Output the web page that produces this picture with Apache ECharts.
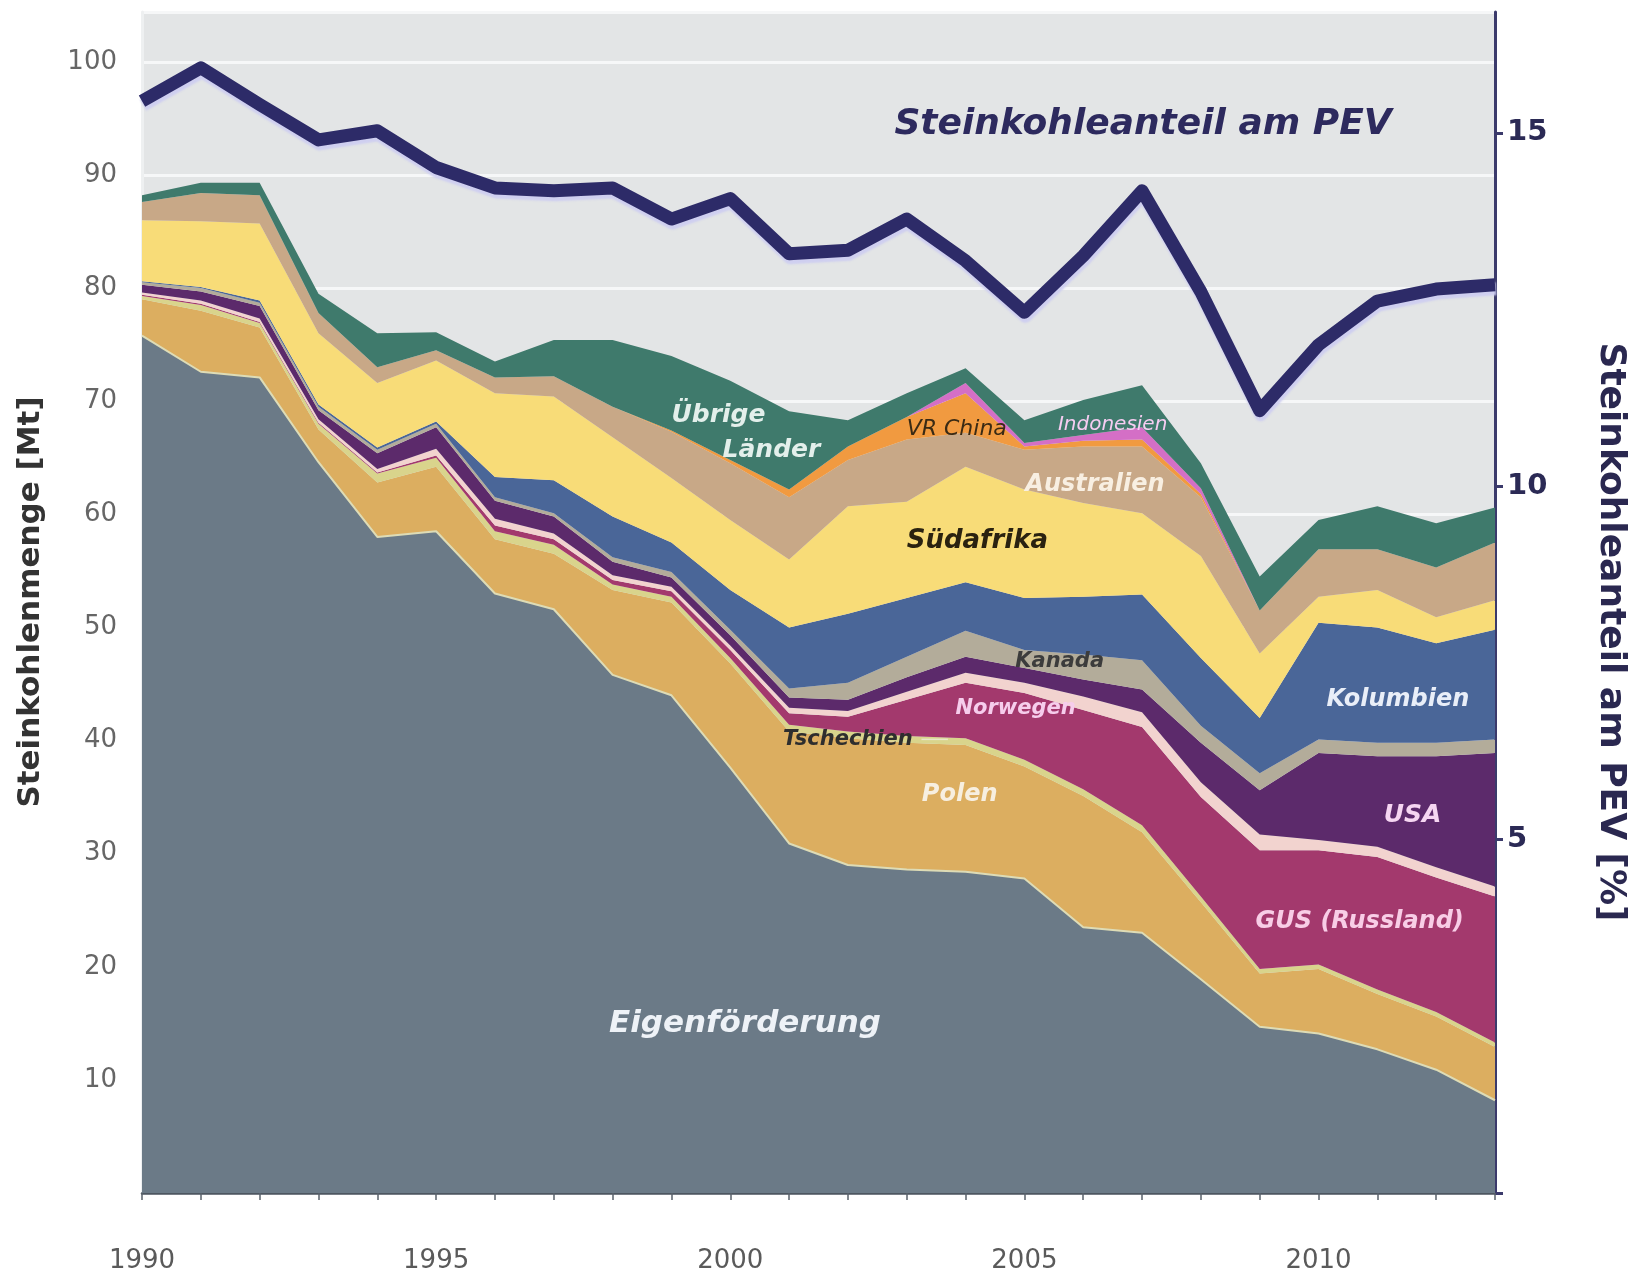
<!DOCTYPE html>
<html><head><meta charset="utf-8">
<script src="https://cdn.jsdelivr.net/npm/echarts@6/dist/echarts.min.js"></script>
<style>html,body{margin:0;padding:0;background:#fff}#c{width:1634px;height:1276px}</style>
</head><body><div id="c"></div>
<script>
const years = ['1990','1991','1992','1993','1994','1995','1996','1997','1998','1999','2000','2001','2002','2003','2004','2005','2006','2007','2008','2009','2010','2011','2012','2013'];
const xLabelYears = ['1990','1995','2000','2005','2010'];

// Mt per source (stack order from bottom)
const eigenfoerderung = [75.8,72.6,72.1,64.6,58.0,58.5,53.0,51.6,45.8,44.0,37.6,30.9,29.0,28.6,28.4,27.8,23.5,23.0,18.9,14.7,14.1,12.7,10.9,8.2];
const polen          = [3.2,5.4,4.4,2.9,4.8,5.7,4.8,4.9,7.5,8.2,9.2,9.9,11.2,11.2,11.2,9.9,11.6,8.9,6.8,4.7,5.7,4.9,4.7,4.7];
const tschechien     = [0.3,0.5,0.4,0.5,0.8,0.8,0.7,0.8,0.5,0.5,0.5,0.6,0.6,0.6,0.6,0.6,0.6,0.6,0.5,0.4,0.4,0.4,0.4,0.4];
const gus            = [0.1,0.1,0.1,0.1,0.1,0.2,0.5,0.5,0.4,0.5,0.7,1.0,1.3,3.2,4.9,5.9,7.0,8.7,8.8,10.5,10.1,11.7,11.9,12.9];
const norwegen       = [0.2,0.3,0.3,0.3,0.3,0.6,0.6,0.5,0.4,0.4,0.4,0.5,0.5,0.7,0.9,0.9,1.2,1.3,1.3,1.4,0.9,0.9,0.9,0.9];
const usa            = [0.7,0.8,1.1,0.8,1.4,1.9,1.6,1.5,1.2,0.8,0.9,0.9,1.0,1.3,1.4,1.3,1.5,2.0,3.5,3.9,7.7,8.0,9.8,11.8];
const kanada         = [0.2,0.3,0.3,0.3,0.3,0.3,0.3,0.3,0.4,0.5,0.5,0.8,1.5,1.8,2.3,1.6,2.2,2.6,1.5,1.5,1.2,1.2,1.2,1.2];
const kolumbien      = [0.1,0.1,0.2,0.2,0.2,0.2,1.8,2.9,3.6,2.6,3.5,5.4,6.1,5.2,4.3,4.6,5.1,5.8,6.0,4.9,10.3,10.2,8.8,9.7];
const suedafrika     = [5.4,5.8,6.8,6.3,5.7,5.4,7.4,7.4,7.0,5.7,6.2,6.0,9.5,8.5,10.2,9.6,8.3,7.2,9.0,5.7,2.3,3.3,2.3,2.6];
const australien     = [1.6,2.5,2.5,1.8,1.4,0.9,1.4,1.8,2.7,4.1,5.0,5.5,4.1,5.5,3.0,3.5,5.0,5.9,5.2,3.8,4.2,3.6,4.4,5.1];
const vrChina        = [0,0,0,0,0,0,0,0,0,0.1,0.3,0.7,1.2,2.0,3.5,0.3,0.5,0.6,0.3,0,0,0,0,0];
const indonesien     = [0,0,0,0,0,0,0,0,0,0,0,0,0,0,0.9,0.3,0.5,1.1,0.5,0,0,0,0,0];
const uebrige        = [0.6,0.9,1.1,1.7,3.0,1.6,1.4,3.2,5.9,6.6,7.0,6.9,2.3,2.1,1.3,2.0,3.1,3.7,2.2,3.0,2.6,3.8,3.9,3.1];

// Steinkohleanteil am PEV [%]
const pevAnteil = [15.45,15.92,15.40,14.9,15.03,14.51,14.22,14.18,14.22,13.78,14.07,13.29,13.34,13.78,13.19,12.46,13.26,14.18,12.75,11.07,12.0,12.62,12.79,12.85];

const FONT = '"DejaVu Sans", Verdana, sans-serif';

const stackDefs = [
  ['Eigenförderung', eigenfoerderung, '#6b7a87'],
  ['Polen', polen, '#dcae60'],
  ['Tschechien', tschechien, '#d9d48c'],
  ['GUS (Russland)', gus, '#a3396d'],
  ['Norwegen', norwegen, '#f2d3cf'],
  ['USA', usa, '#5c2a6b'],
  ['Kanada', kanada, '#b3ac9a'],
  ['Kolumbien', kolumbien, '#4a6698'],
  ['Südafrika', suedafrika, '#f8dc78'],
  ['Australien', australien, '#c8a887'],
  ['VR China', vrChina, '#f19a40'],
  ['Indonesien', indonesien, '#d46fc6'],
  ['Übrige Länder', uebrige, '#3f7a6c']
];

const series = stackDefs.map(([name, data, color], i) => ({
  name, type: 'line', data, stack: 'mt', yAxisIndex: 0,
  symbol: 'none', showSymbol: false, silent: true,
  lineStyle: i === 0 ? {width: 2, color: '#dedcb6'} : {width: 0},
  areaStyle: {color, opacity: 1},
  emphasis: {disabled: true},
  z: 2
}));

series.push({
  name: 'Steinkohleanteil am PEV', type: 'line', data: pevAnteil, yAxisIndex: 1,
  symbol: 'none', showSymbol: false, silent: true,
  lineStyle: {color: '#2d2b68', width: 13, join: 'round', cap: 'butt',
    shadowColor: 'rgba(205,205,240,0.95)', shadowBlur: 2, shadowOffsetX: 1, shadowOffsetY: 4},
  emphasis: {disabled: true},
  z: 10
});

const chart = echarts.init(document.getElementById('c'), null, {renderer: 'canvas'});
chart.setOption({
  animation: false,
  backgroundColor: '#ffffff',
  textStyle: {fontFamily: FONT},
  grid: {left: 142, right: 139, top: 12, bottom: 83, show: true, backgroundColor: '#e3e5e6', borderWidth: 0, containLabel: false, outerBoundsMode: 'none'},
  xAxis: {
    type: 'category', data: years, boundaryGap: false,
    axisLine: {show: true, lineStyle: {color: '#4d5660', width: 2.5}},
    axisTick: {show: true, interval: 0, length: 7, lineStyle: {color: '#59626b', width: 1.5}},
    axisLabel: {interval: (idx, val) => xLabelYears.includes(val), color: '#5a5a5a', fontSize: 26, margin: 55, fontFamily: FONT},
    splitLine: {show: false}
  },
  yAxis: [{
    type: 'value', min: 0, max: 104.4, interval: 10, position: 'left',
    axisLine: {show: true, lineStyle: {color: '#eef0f1', width: 3}},
    axisTick: {show: false},
    axisLabel: {color: '#666666', fontSize: 26, margin: 25, fontFamily: FONT, showMaxLabel: false,
      formatter: v => (v === 0 ? '' : String(v))},
    splitLine: {show: true, lineStyle: {color: '#f6f7f8', width: 3}}
  }, {
    type: 'value', min: 0, max: 16.71, interval: 5, position: 'right',
    axisLine: {show: true, lineStyle: {color: '#3b3a6b', width: 3}},
    axisTick: {show: true, inside: false, length: 8, lineStyle: {color: '#3b3a6b', width: 3}},
    axisLabel: {color: '#2b2a55', fontSize: 29, fontWeight: 'bold', margin: 12, fontFamily: FONT, showMaxLabel: false,
      formatter: v => (v === 0 ? '' : String(v))},
    splitLine: {show: false}
  }],
  series
});

function px(yearFloat, value) {
  const t = yearFloat - 1990;
  const i0 = Math.max(0, Math.min(years.length - 2, Math.floor(t)));
  const a = chart.convertToPixel({xAxisIndex: 0, yAxisIndex: 0}, [i0, value]);
  const b = chart.convertToPixel({xAxisIndex: 0, yAxisIndex: 0}, [i0 + 1, value]);
  const f = t - i0;
  return [a[0] + (b[0] - a[0]) * f, a[1]];
}

const labelDefs = [
  {text: 'Eigenförderung', at: [2000.25, 14.9], size: 31, color: '#eef2f7', bold: true},
  {text: 'Polen', at: [2003.9, 35.2], size: 24, color: '#f7efe0', bold: true},
  {text: 'Tschechien', at: [2002.0, 40.1], size: 21, color: '#2e2e2e', bold: true, leader: [2003.25, 2003.7]},
  {text: 'Norwegen', at: [2004.85, 42.8], size: 21, color: '#f6cdec', bold: true},
  {text: 'Kanada', at: [2005.6, 47.0], size: 21, color: '#3c3c3c', bold: true},
  {text: 'Südafrika', at: [2004.2, 57.6], size: 26, color: '#2a2210', bold: true},
  {text: 'Australien', at: [2006.2, 62.6], size: 24, color: '#f8efe2', bold: true},
  {text: 'VR China', at: [2003.85, 67.5], size: 22, color: '#3a2a14', bold: false},
  {text: 'Indonesien', at: [2006.5, 67.9], size: 20, color: '#f6cdf2', bold: false},
  {text: 'Übrige', at: [1999.8, 68.7], size: 25, color: '#e3efeb', bold: true},
  {text: 'Länder', at: [2000.7, 65.6], size: 25, color: '#e3efeb', bold: true},
  {text: 'Kolumbien', at: [2011.35, 43.6], size: 24, color: '#e9eef8', bold: true},
  {text: 'USA', at: [2011.6, 33.4], size: 25, color: '#f6d6f2', bold: true},
  {text: 'GUS (Russland)', at: [2010.7, 24.0], size: 24, color: '#f8cde6', bold: true}
];

const graphic = [];
labelDefs.forEach(d => {
  const p = px(d.at[0], d.at[1]);
  graphic.push({type: 'text', x: p[0], y: p[1], z: 100, silent: true,
    style: {text: d.text, fill: d.color, align: 'center', verticalAlign: 'middle',
      font: `italic ${d.bold ? 'bold ' : ''}${d.size}px ${FONT}`}});
  if (d.leader) {
    const a = px(d.leader[0], d.at[1]);
    const b = px(d.leader[1], d.at[1]);
    graphic.push({type: 'line', z: 100, silent: true, shape: {x1: a[0], y1: a[1], x2: b[0], y2: b[1]},
      style: {stroke: '#e8e6c8', lineWidth: 1.5}});
  }
});

graphic.push({type: 'text', x: 1143, y: 125, z: 100, silent: true,
  style: {text: 'Steinkohleanteil am PEV', fill: '#2d2a5e', align: 'center', verticalAlign: 'middle',
    font: `italic bold 36px ${FONT}`}});
graphic.push({type: 'text', x: 31, y: 602, rotation: Math.PI / 2, z: 100, silent: true,
  style: {text: 'Steinkohlenmenge [Mt]', fill: '#333333', align: 'center', verticalAlign: 'middle',
    font: `bold 31px ${FONT}`}});
graphic.push({type: 'text', x: 1610, y: 632, rotation: -Math.PI / 2, z: 100, silent: true,
  style: {text: 'Steinkohleanteil am PEV [%]', fill: '#2a2850', align: 'center', verticalAlign: 'middle',
    font: `bold 36px ${FONT}`}});

chart.setOption({graphic});
</script>
</body></html>
